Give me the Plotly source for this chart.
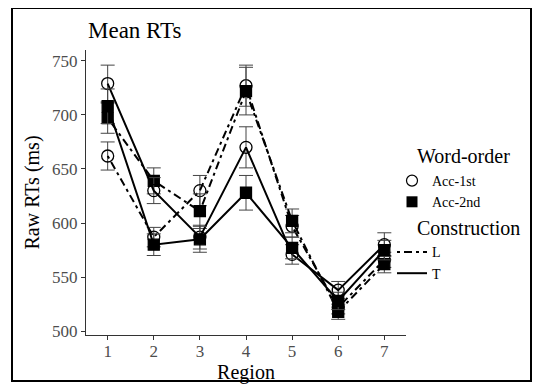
import plotly.graph_objects as go

regions = [1, 2, 3, 4, 5, 6, 7]
tick_vals_y = [500, 550, 600, 650, 700, 750]

acc1_L = [662, 587, 630, 727, 597, 522, 566]
acc1_L_se = [13, 9, 14, 19, 10, 6, 7]
acc1_T = [729, 630, 587, 670, 571, 538, 580]
acc1_T_se = [17, 12, 11, 19, 9, 8, 11]
acc2_L = [697, 639, 611, 722, 602, 518, 562]
acc2_L_se = [14, 12, 16, 22, 11, 7, 8]
acc2_T = [708, 580, 585, 628, 577, 528, 575]
acc2_T_se = [16, 10, 12, 16, 10, 8, 9]

FONT = "Liberation Serif"
DASHDOT = "3px,4px,8px,4px"
ERR = "#444444"
NB = "\u00a0" * 4
OFF = 8  # the page body adds an 8px margin; compensate

series = [
    (acc1_L, acc1_L_se, "circle-open", DASHDOT, 12),
    (acc2_L, acc2_L_se, "square", DASHDOT, 11),
    (acc1_T, acc1_T_se, "circle-open", "solid", 12),
    (acc2_T, acc2_T_se, "square", "solid", 11),
]

fig = go.Figure()
for vals, se, sym, dash, msize in series:
    fig.add_trace(go.Scatter(
        x=regions, y=vals, mode="lines+markers",
        line=dict(color="black", width=2, dash=dash),
        marker=dict(symbol=sym, size=msize, color="black",
                    line=dict(color="black", width=1.3)),
        error_y=dict(type="data", array=se, visible=True,
                     color=ERR, thickness=1, width=7),
        showlegend=False, hoverinfo="skip",
    ))

# legend entries
fig.add_trace(go.Scatter(x=[None], y=[None], mode="markers", name="Acc-1st",
                         marker=dict(symbol="circle-open", size=11, color="black",
                                     line=dict(width=1.2, color="black")),
                         legendgroup="wo", legendgrouptitle=dict(text=NB + "Word-order")))
fig.add_trace(go.Scatter(x=[None], y=[None], mode="markers", name="Acc-2nd",
                         marker=dict(symbol="square", size=11, color="black"),
                         legendgroup="wo"))
fig.add_trace(go.Scatter(x=[None], y=[None], mode="lines", name="L",
                         line=dict(color="black", width=2, dash=DASHDOT),
                         legendgroup="con", legendgrouptitle=dict(text=NB + "Construction")))
fig.add_trace(go.Scatter(x=[None], y=[None], mode="lines", name="T",
                         line=dict(color="black", width=2),
                         legendgroup="con"))

axis_common = dict(
    showgrid=False, zeroline=False, showline=True, linecolor="#333333", linewidth=1,
    ticks="outside", ticklen=4, tickcolor="#333333", tickwidth=1, automargin=False,
    tickfont=dict(family=FONT, size=17, color="#4d4d4d"),
)

fig.update_layout(
    width=542, height=390,
    margin=dict(l=86 - OFF, r=542 - (406 - OFF), t=50 - OFF, b=390 - (335 - OFF),
                autoexpand=False),
    paper_bgcolor="white", plot_bgcolor="white",
    font=dict(family=FONT, color="black"),
    title=dict(text="Mean RTs", x=(88 - OFF) / 542, xref="container", xanchor="left",
               y=1 - (30 - OFF) / 390, yref="container", yanchor="middle", pad=dict(l=0),
               font=dict(family=FONT, size=23, color="black")),
    xaxis=dict(range=[0.53, 7.47], tickvals=regions, ticklabelstandoff=-3, **axis_common,
               title=dict(text="Region", font=dict(family=FONT, size=20), standoff=0)),
    yaxis=dict(range=[496.5, 760], tickvals=tick_vals_y, **axis_common,
               title=dict(text="Raw RTs (ms)", font=dict(family=FONT, size=20), standoff=7)),
    legend=dict(x=(392 - 86) / 320, xanchor="left", y=(335 - 136) / 285, yanchor="top",
                traceorder="grouped", tracegroupgap=0, itemwidth=30,
                font=dict(family=FONT, size=14, color="black"),
                grouptitlefont=dict(family=FONT, size=20, color="black"),
                bgcolor="rgba(0,0,0,0)"),
    shapes=[dict(type="rect", xref="paper", yref="paper",
                 x0=(12 - 86) / 320, x1=(531 - 86) / 320,
                 y0=(335 - 381) / 285, y1=(335 - 8) / 285,
                 line=dict(color="black", width=2), fillcolor="rgba(0,0,0,0)",
                 layer="above")],
)

fig.write_html("out.html")
